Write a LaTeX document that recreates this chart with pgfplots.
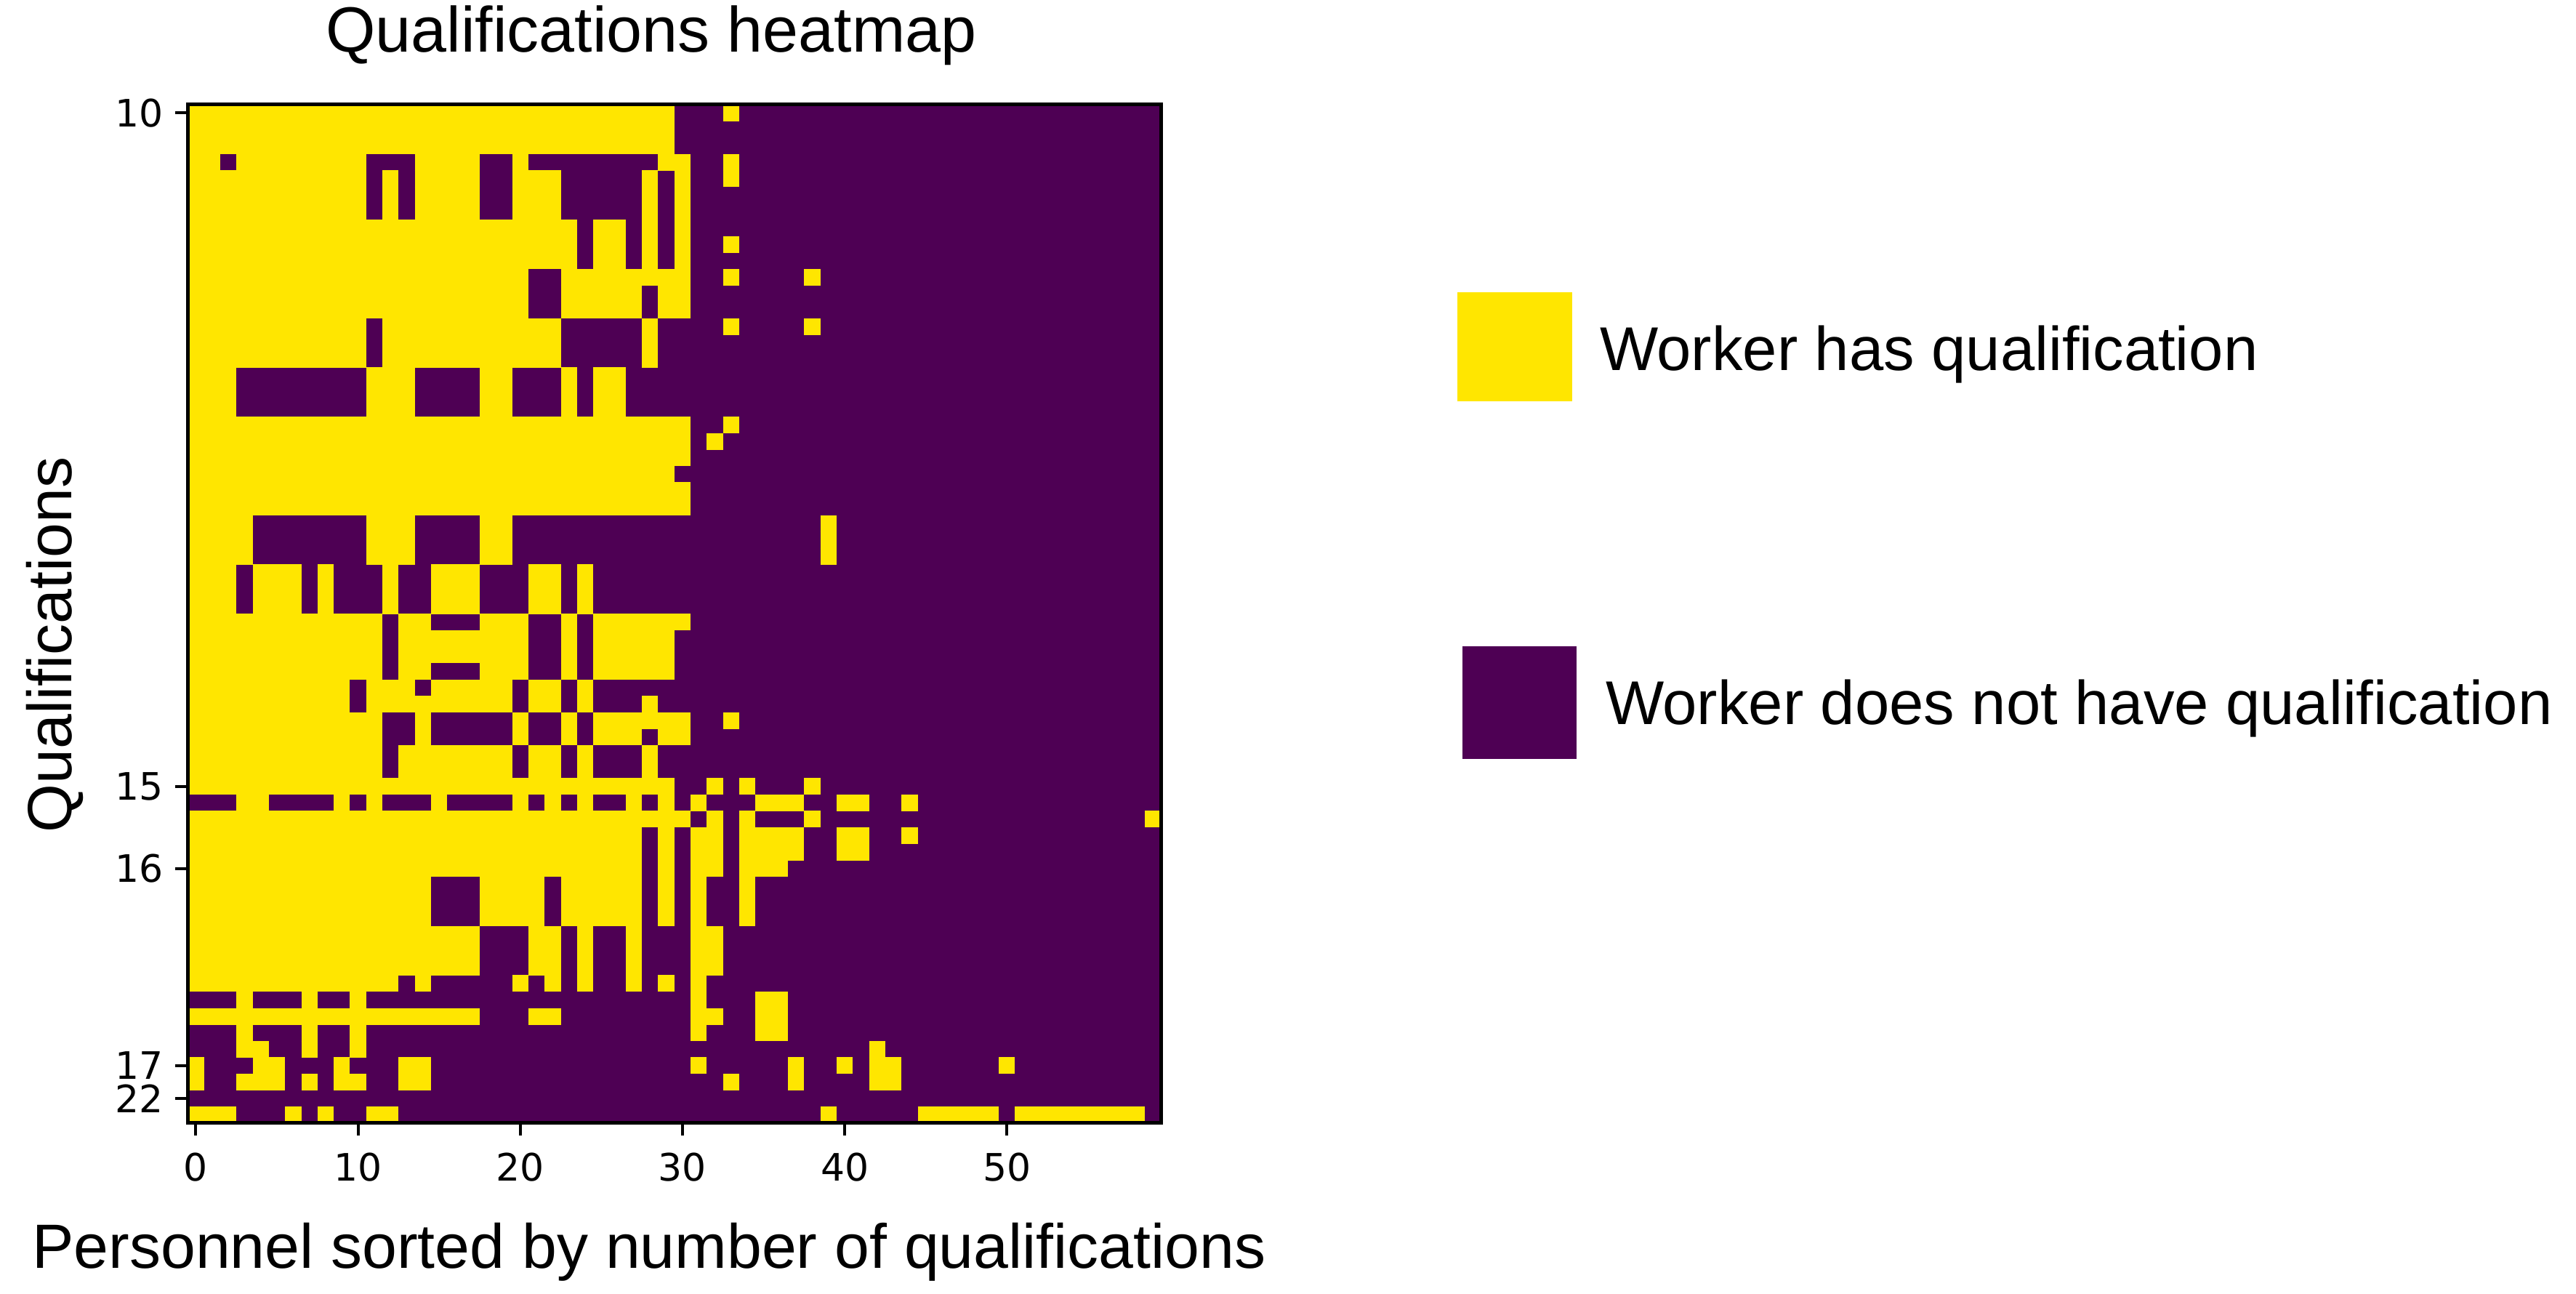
\documentclass[border=0pt]{standalone}
\usepackage{fontspec}
\setmainfont{Liberation Sans}
\newfontfamily\dejavu{DejaVu Sans}
\usepackage{pgfplots}
\pgfplotsset{compat=1.18}
\definecolor{noq}{RGB}{78,0,84}
\definecolor{hasq}{RGB}{255,230,0}
% one \addplot per matrix row: yellow runs, cell c spans [c-0.5, c+0.5]
\pgfplotsset{run/.style={draw=hasq, line width=2.3pt, line cap=butt, unbounded coords=jump, mark=none, forget plot}}

\begin{document}
\begin{tikzpicture}[x=1pt,y=1pt]
\useasboundingbox (0,0) rectangle (354.4,178);
\begin{axis}[
    at={(25.83pt,23.5pt)}, anchor=south west,
    scale only axis, width=133.9pt, height=140.1pt,
    xmin=-0.5, xmax=59.5, ymin=-0.5, ymax=61.5, y dir=reverse,
    axis background/.style={fill=noq},
    axis on top,
    axis line style={line width=0.5pt},
    xtick={0,10,...,50},
    ytick={0,41,46,58,60}, yticklabels={10,15,16,17,22},
    tick pos=left, tick align=outside, major tick length=1.7pt,
    tick style={line width=0.4pt, black},
    ticklabel style={font=\dejavu\fontsize{5.2}{6}\selectfont},
    xticklabel style={inner sep=0pt, yshift=-2.2pt},
    yticklabel style={inner sep=0pt, xshift=-1.5pt},
    /pgf/number format/assume math mode=true,
]
\addplot[run] coordinates {(-0.5,0) (29.5,0) (nan,nan) (32.5,0) (33.5,0)};
\addplot[run] coordinates {(-0.5,1) (29.5,1)};
\addplot[run] coordinates {(-0.5,2) (29.5,2)};
\addplot[run] coordinates {(-0.5,3) (1.5,3) (nan,nan) (2.5,3) (10.5,3) (nan,nan) (13.5,3) (17.5,3) (nan,nan) (19.5,3) (20.5,3) (nan,nan) (28.5,3) (30.5,3) (nan,nan) (32.5,3) (33.5,3)};
\addplot[run] coordinates {(-0.5,4) (10.5,4) (nan,nan) (11.5,4) (12.5,4) (nan,nan) (13.5,4) (17.5,4) (nan,nan) (19.5,4) (22.5,4) (nan,nan) (27.5,4) (28.5,4) (nan,nan) (29.5,4) (30.5,4) (nan,nan) (32.5,4) (33.5,4)};
\addplot[run] coordinates {(-0.5,5) (10.5,5) (nan,nan) (11.5,5) (12.5,5) (nan,nan) (13.5,5) (17.5,5) (nan,nan) (19.5,5) (22.5,5) (nan,nan) (27.5,5) (28.5,5) (nan,nan) (29.5,5) (30.5,5)};
\addplot[run] coordinates {(-0.5,6) (10.5,6) (nan,nan) (11.5,6) (12.5,6) (nan,nan) (13.5,6) (17.5,6) (nan,nan) (19.5,6) (22.5,6) (nan,nan) (27.5,6) (28.5,6) (nan,nan) (29.5,6) (30.5,6)};
\addplot[run] coordinates {(-0.5,7) (23.5,7) (nan,nan) (24.5,7) (26.5,7) (nan,nan) (27.5,7) (28.5,7) (nan,nan) (29.5,7) (30.5,7)};
\addplot[run] coordinates {(-0.5,8) (23.5,8) (nan,nan) (24.5,8) (26.5,8) (nan,nan) (27.5,8) (28.5,8) (nan,nan) (29.5,8) (30.5,8) (nan,nan) (32.5,8) (33.5,8)};
\addplot[run] coordinates {(-0.5,9) (23.5,9) (nan,nan) (24.5,9) (26.5,9) (nan,nan) (27.5,9) (28.5,9) (nan,nan) (29.5,9) (30.5,9)};
\addplot[run] coordinates {(-0.5,10) (20.5,10) (nan,nan) (22.5,10) (30.5,10) (nan,nan) (32.5,10) (33.5,10) (nan,nan) (37.5,10) (38.5,10)};
\addplot[run] coordinates {(-0.5,11) (20.5,11) (nan,nan) (22.5,11) (27.5,11) (nan,nan) (28.5,11) (30.5,11)};
\addplot[run] coordinates {(-0.5,12) (20.5,12) (nan,nan) (22.5,12) (27.5,12) (nan,nan) (28.5,12) (30.5,12)};
\addplot[run] coordinates {(-0.5,13) (10.5,13) (nan,nan) (11.5,13) (22.5,13) (nan,nan) (27.5,13) (28.5,13) (nan,nan) (32.5,13) (33.5,13) (nan,nan) (37.5,13) (38.5,13)};
\addplot[run] coordinates {(-0.5,14) (10.5,14) (nan,nan) (11.5,14) (22.5,14) (nan,nan) (27.5,14) (28.5,14)};
\addplot[run] coordinates {(-0.5,15) (10.5,15) (nan,nan) (11.5,15) (22.5,15) (nan,nan) (27.5,15) (28.5,15)};
\addplot[run] coordinates {(-0.5,16) (2.5,16) (nan,nan) (10.5,16) (13.5,16) (nan,nan) (17.5,16) (19.5,16) (nan,nan) (22.5,16) (23.5,16) (nan,nan) (24.5,16) (26.5,16)};
\addplot[run] coordinates {(-0.5,17) (2.5,17) (nan,nan) (10.5,17) (13.5,17) (nan,nan) (17.5,17) (19.5,17) (nan,nan) (22.5,17) (23.5,17) (nan,nan) (24.5,17) (26.5,17)};
\addplot[run] coordinates {(-0.5,18) (2.5,18) (nan,nan) (10.5,18) (13.5,18) (nan,nan) (17.5,18) (19.5,18) (nan,nan) (22.5,18) (23.5,18) (nan,nan) (24.5,18) (26.5,18)};
\addplot[run] coordinates {(-0.5,19) (30.5,19) (nan,nan) (32.5,19) (33.5,19)};
\addplot[run] coordinates {(-0.5,20) (30.5,20) (nan,nan) (31.5,20) (32.5,20)};
\addplot[run] coordinates {(-0.5,21) (30.5,21)};
\addplot[run] coordinates {(-0.5,22) (29.5,22)};
\addplot[run] coordinates {(-0.5,23) (30.5,23)};
\addplot[run] coordinates {(-0.5,24) (30.5,24)};
\addplot[run] coordinates {(-0.5,25) (3.5,25) (nan,nan) (10.5,25) (13.5,25) (nan,nan) (17.5,25) (19.5,25) (nan,nan) (38.5,25) (39.5,25)};
\addplot[run] coordinates {(-0.5,26) (3.5,26) (nan,nan) (10.5,26) (13.5,26) (nan,nan) (17.5,26) (19.5,26) (nan,nan) (38.5,26) (39.5,26)};
\addplot[run] coordinates {(-0.5,27) (3.5,27) (nan,nan) (10.5,27) (13.5,27) (nan,nan) (17.5,27) (19.5,27) (nan,nan) (38.5,27) (39.5,27)};
\addplot[run] coordinates {(-0.5,28) (2.5,28) (nan,nan) (3.5,28) (6.5,28) (nan,nan) (7.5,28) (8.5,28) (nan,nan) (11.5,28) (12.5,28) (nan,nan) (14.5,28) (17.5,28) (nan,nan) (20.5,28) (22.5,28) (nan,nan) (23.5,28) (24.5,28)};
\addplot[run] coordinates {(-0.5,29) (2.5,29) (nan,nan) (3.5,29) (6.5,29) (nan,nan) (7.5,29) (8.5,29) (nan,nan) (11.5,29) (12.5,29) (nan,nan) (14.5,29) (17.5,29) (nan,nan) (20.5,29) (22.5,29) (nan,nan) (23.5,29) (24.5,29)};
\addplot[run] coordinates {(-0.5,30) (2.5,30) (nan,nan) (3.5,30) (6.5,30) (nan,nan) (7.5,30) (8.5,30) (nan,nan) (11.5,30) (12.5,30) (nan,nan) (14.5,30) (17.5,30) (nan,nan) (20.5,30) (22.5,30) (nan,nan) (23.5,30) (24.5,30)};
\addplot[run] coordinates {(-0.5,31) (11.5,31) (nan,nan) (12.5,31) (14.5,31) (nan,nan) (17.5,31) (20.5,31) (nan,nan) (22.5,31) (23.5,31) (nan,nan) (24.5,31) (30.5,31)};
\addplot[run] coordinates {(-0.5,32) (11.5,32) (nan,nan) (12.5,32) (20.5,32) (nan,nan) (22.5,32) (23.5,32) (nan,nan) (24.5,32) (29.5,32)};
\addplot[run] coordinates {(-0.5,33) (11.5,33) (nan,nan) (12.5,33) (20.5,33) (nan,nan) (22.5,33) (23.5,33) (nan,nan) (24.5,33) (29.5,33)};
\addplot[run] coordinates {(-0.5,34) (11.5,34) (nan,nan) (12.5,34) (14.5,34) (nan,nan) (17.5,34) (20.5,34) (nan,nan) (22.5,34) (23.5,34) (nan,nan) (24.5,34) (29.5,34)};
\addplot[run] coordinates {(-0.5,35) (9.5,35) (nan,nan) (10.5,35) (13.5,35) (nan,nan) (14.5,35) (19.5,35) (nan,nan) (20.5,35) (22.5,35) (nan,nan) (23.5,35) (24.5,35)};
\addplot[run] coordinates {(-0.5,36) (9.5,36) (nan,nan) (10.5,36) (19.5,36) (nan,nan) (20.5,36) (22.5,36) (nan,nan) (23.5,36) (24.5,36) (nan,nan) (27.5,36) (28.5,36)};
\addplot[run] coordinates {(-0.5,37) (11.5,37) (nan,nan) (13.5,37) (14.5,37) (nan,nan) (19.5,37) (20.5,37) (nan,nan) (22.5,37) (23.5,37) (nan,nan) (24.5,37) (30.5,37) (nan,nan) (32.5,37) (33.5,37)};
\addplot[run] coordinates {(-0.5,38) (11.5,38) (nan,nan) (13.5,38) (14.5,38) (nan,nan) (19.5,38) (20.5,38) (nan,nan) (22.5,38) (23.5,38) (nan,nan) (24.5,38) (27.5,38) (nan,nan) (28.5,38) (30.5,38)};
\addplot[run] coordinates {(-0.5,39) (11.5,39) (nan,nan) (12.5,39) (19.5,39) (nan,nan) (20.5,39) (22.5,39) (nan,nan) (23.5,39) (24.5,39) (nan,nan) (27.5,39) (28.5,39)};
\addplot[run] coordinates {(-0.5,40) (11.5,40) (nan,nan) (12.5,40) (19.5,40) (nan,nan) (20.5,40) (22.5,40) (nan,nan) (23.5,40) (24.5,40) (nan,nan) (27.5,40) (28.5,40)};
\addplot[run] coordinates {(-0.5,41) (29.5,41) (nan,nan) (31.5,41) (32.5,41) (nan,nan) (33.5,41) (34.5,41) (nan,nan) (37.5,41) (38.5,41)};
\addplot[run] coordinates {(2.5,42) (4.5,42) (nan,nan) (8.5,42) (9.5,42) (nan,nan) (10.5,42) (11.5,42) (nan,nan) (14.5,42) (15.5,42) (nan,nan) (19.5,42) (20.5,42) (nan,nan) (21.5,42) (22.5,42) (nan,nan) (23.5,42) (24.5,42) (nan,nan) (26.5,42) (27.5,42) (nan,nan) (28.5,42) (29.5,42) (nan,nan) (30.5,42) (31.5,42) (nan,nan) (34.5,42) (37.5,42) (nan,nan) (39.5,42) (41.5,42) (nan,nan) (43.5,42) (44.5,42)};
\addplot[run] coordinates {(-0.5,43) (30.5,43) (nan,nan) (31.5,43) (32.5,43) (nan,nan) (33.5,43) (34.5,43) (nan,nan) (37.5,43) (38.5,43) (nan,nan) (58.5,43) (59.5,43)};
\addplot[run] coordinates {(-0.5,44) (27.5,44) (nan,nan) (28.5,44) (29.5,44) (nan,nan) (30.5,44) (32.5,44) (nan,nan) (33.5,44) (37.5,44) (nan,nan) (39.5,44) (41.5,44) (nan,nan) (43.5,44) (44.5,44)};
\addplot[run] coordinates {(-0.5,45) (27.5,45) (nan,nan) (28.5,45) (29.5,45) (nan,nan) (30.5,45) (32.5,45) (nan,nan) (33.5,45) (37.5,45) (nan,nan) (39.5,45) (41.5,45)};
\addplot[run] coordinates {(-0.5,46) (27.5,46) (nan,nan) (28.5,46) (29.5,46) (nan,nan) (30.5,46) (32.5,46) (nan,nan) (33.5,46) (36.5,46)};
\addplot[run] coordinates {(-0.5,47) (14.5,47) (nan,nan) (17.5,47) (21.5,47) (nan,nan) (22.5,47) (27.5,47) (nan,nan) (28.5,47) (29.5,47) (nan,nan) (30.5,47) (31.5,47) (nan,nan) (33.5,47) (34.5,47)};
\addplot[run] coordinates {(-0.5,48) (14.5,48) (nan,nan) (17.5,48) (21.5,48) (nan,nan) (22.5,48) (27.5,48) (nan,nan) (28.5,48) (29.5,48) (nan,nan) (30.5,48) (31.5,48) (nan,nan) (33.5,48) (34.5,48)};
\addplot[run] coordinates {(-0.5,49) (14.5,49) (nan,nan) (17.5,49) (21.5,49) (nan,nan) (22.5,49) (27.5,49) (nan,nan) (28.5,49) (29.5,49) (nan,nan) (30.5,49) (31.5,49) (nan,nan) (33.5,49) (34.5,49)};
\addplot[run] coordinates {(-0.5,50) (17.5,50) (nan,nan) (20.5,50) (22.5,50) (nan,nan) (23.5,50) (24.5,50) (nan,nan) (26.5,50) (27.5,50) (nan,nan) (30.5,50) (32.5,50)};
\addplot[run] coordinates {(-0.5,51) (17.5,51) (nan,nan) (20.5,51) (22.5,51) (nan,nan) (23.5,51) (24.5,51) (nan,nan) (26.5,51) (27.5,51) (nan,nan) (30.5,51) (32.5,51)};
\addplot[run] coordinates {(-0.5,52) (17.5,52) (nan,nan) (20.5,52) (22.5,52) (nan,nan) (23.5,52) (24.5,52) (nan,nan) (26.5,52) (27.5,52) (nan,nan) (30.5,52) (32.5,52)};
\addplot[run] coordinates {(-0.5,53) (12.5,53) (nan,nan) (13.5,53) (14.5,53) (nan,nan) (19.5,53) (20.5,53) (nan,nan) (21.5,53) (22.5,53) (nan,nan) (23.5,53) (24.5,53) (nan,nan) (26.5,53) (27.5,53) (nan,nan) (28.5,53) (29.5,53) (nan,nan) (30.5,53) (31.5,53)};
\addplot[run] coordinates {(2.5,54) (3.5,54) (nan,nan) (6.5,54) (7.5,54) (nan,nan) (9.5,54) (10.5,54) (nan,nan) (30.5,54) (31.5,54) (nan,nan) (34.5,54) (36.5,54)};
\addplot[run] coordinates {(-0.5,55) (17.5,55) (nan,nan) (20.5,55) (22.5,55) (nan,nan) (30.5,55) (32.5,55) (nan,nan) (34.5,55) (36.5,55)};
\addplot[run] coordinates {(2.5,56) (3.5,56) (nan,nan) (6.5,56) (7.5,56) (nan,nan) (9.5,56) (10.5,56) (nan,nan) (30.5,56) (31.5,56) (nan,nan) (34.5,56) (36.5,56)};
\addplot[run] coordinates {(2.5,57) (4.5,57) (nan,nan) (6.5,57) (7.5,57) (nan,nan) (9.5,57) (10.5,57) (nan,nan) (41.5,57) (42.5,57)};
\addplot[run] coordinates {(-0.5,58) (0.5,58) (nan,nan) (3.5,58) (5.5,58) (nan,nan) (8.5,58) (9.5,58) (nan,nan) (12.5,58) (14.5,58) (nan,nan) (30.5,58) (31.5,58) (nan,nan) (36.5,58) (37.5,58) (nan,nan) (39.5,58) (40.5,58) (nan,nan) (41.5,58) (43.5,58) (nan,nan) (49.5,58) (50.5,58)};
\addplot[run] coordinates {(-0.5,59) (0.5,59) (nan,nan) (2.5,59) (5.5,59) (nan,nan) (6.5,59) (7.5,59) (nan,nan) (8.5,59) (10.5,59) (nan,nan) (12.5,59) (14.5,59) (nan,nan) (32.5,59) (33.5,59) (nan,nan) (36.5,59) (37.5,59) (nan,nan) (41.5,59) (43.5,59)};
% row 60: no yellow cells
\addplot[run] coordinates {(-0.5,61) (2.5,61) (nan,nan) (5.5,61) (6.5,61) (nan,nan) (7.5,61) (8.5,61) (nan,nan) (10.5,61) (12.5,61) (nan,nan) (38.5,61) (39.5,61) (nan,nan) (44.5,61) (49.5,61) (nan,nan) (50.5,61) (58.5,61)};
\end{axis}

% titles and axis labels
\node[anchor=base, inner sep=0pt, font=\fontsize{8.8}{10}\selectfont] at (89.6,170.8) {Qualifications heatmap};
\node[rotate=90, anchor=base, inner sep=0pt, font=\fontsize{8.6}{10}\selectfont] at (9.9,89.3) {Qualifications};
\node[anchor=base, inner sep=0pt, font=\fontsize{8.6}{10}\selectfont] at (89.3,3.5) {Personnel sorted by number of qualifications};

% legend
\fill[hasq] (200.5,122.8) rectangle (216.3,137.8);
\node[anchor=base west, inner sep=0pt, font=\fontsize{8.5}{10}\selectfont] at (219.9,127.0) {Worker has qualification};
\fill[noq] (201.2,73.6) rectangle (216.9,89.1);
\node[anchor=base west, inner sep=0pt, font=\fontsize{8.5}{10}\selectfont] at (220.7,78.3) {Worker does not have qualification};
\end{tikzpicture}
\end{document}
